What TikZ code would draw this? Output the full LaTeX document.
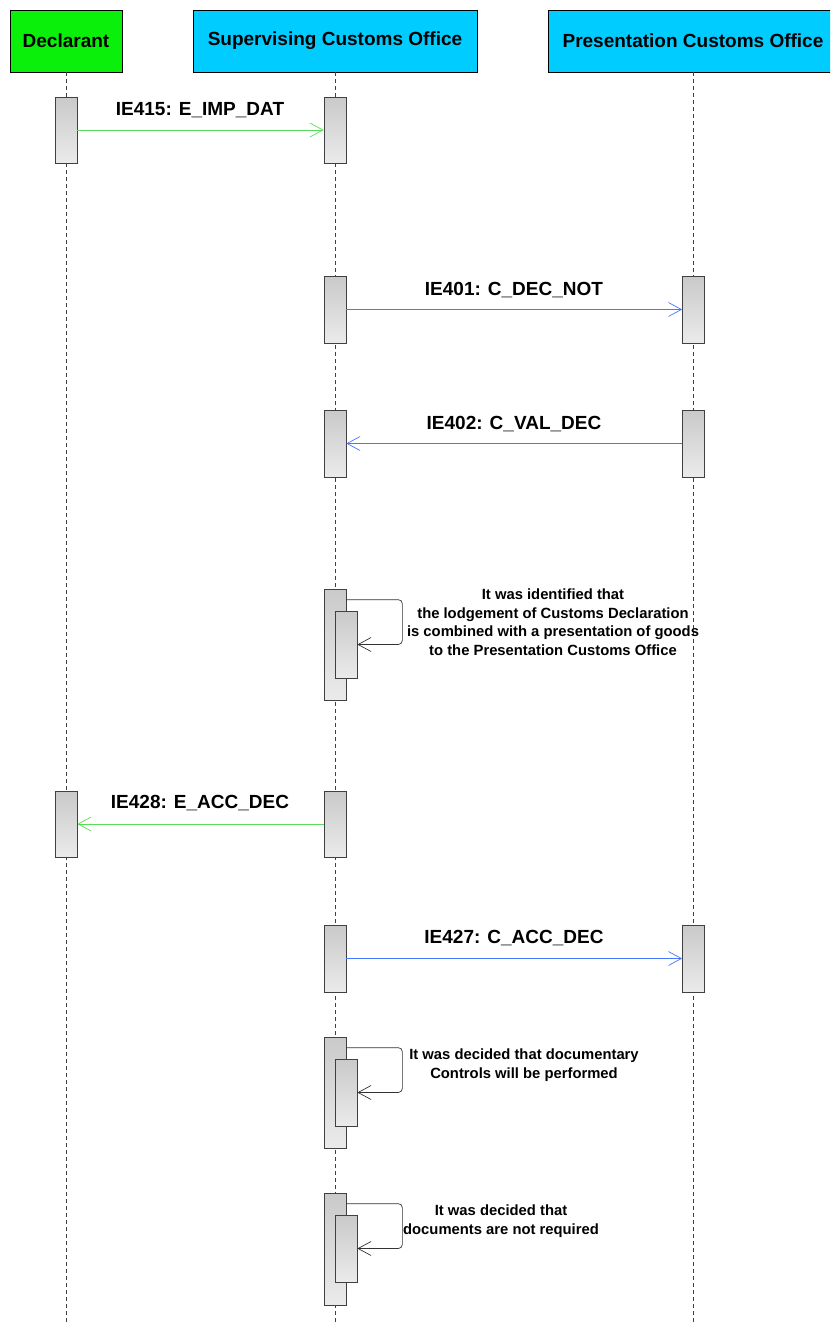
\documentclass[tikz,border=0pt]{standalone}
\usepackage{fontspec}
\setmainfont{Liberation Sans}
\usetikzlibrary{arrows.meta}
\definecolor{declgreen}{RGB}{10,240,10}
\definecolor{offcyan}{RGB}{0,204,255}
\definecolor{msggreen}{RGB}{90,220,90}
\definecolor{msgblue}{RGB}{70,120,255}
\begin{document}
\begin{tikzpicture}[x=1pt,y=-1pt,
  head/.style={draw=black, line width=0.7pt, minimum height=62pt, inner sep=0pt,
    font=\bfseries\fontsize{19}{22}\selectfont},
  life/.style={draw=black!75, dash pattern=on 4pt off 3pt, line width=0.6pt},
  act/.style={draw=black!75, line width=0.7pt, top color=black!21, bottom color=black!8,
    minimum width=22pt, inner sep=0pt},
  msg/.style={line width=0.7pt, -{Straight Barb[length=13pt,width=14pt]}},
  lab/.style={font=\bfseries\fontsize{19}{22}\selectfont, inner sep=0pt},
  note/.style={font=\bfseries\fontsize{14.8}{18.5}\selectfont, align=center, inner sep=0pt},
  selfloop/.style={draw=black!80, line width=0.7pt, rounded corners=4pt,
    -{Straight Barb[length=13pt,width=14pt]}}]
\useasboundingbox (0,0) rectangle (830,1325);
\begin{scope}
\clip (0,0) rectangle (830,1325);
% headers
\node[head, fill=declgreen, minimum width=112pt] (hd) at (66,41) {Declarant};
\node[head, fill=offcyan, minimum width=284pt] (hs) at (335,41) {Supervising Customs Office};
\node[head, fill=offcyan, minimum width=290pt] (hp) at (693,41) {Presentation Customs Office};
\coordinate (bottom) at (0,1325);
% lifelines
\draw[life] (hd.south) -- (hd.south |- bottom);
\draw[life] (hs.south) -- (hs.south |- bottom);
\draw[life] (hp.south) -- (hp.south |- bottom);
\end{scope}
% activations
\node[act, minimum height=66pt] (d1) at (66,130) {};
\node[act, minimum height=66pt] (s1) at (335,130) {};
\node[act, minimum height=67pt] (s2) at (335,309.5) {};
\node[act, minimum height=67pt] (p2) at (693.5,309.5) {};
\node[act, minimum height=67pt] (s3) at (335,443.5) {};
\node[act, minimum height=67pt] (p3) at (693.5,443.5) {};
\node[act, minimum height=111pt] (o1) at (335,644.5) {};
\node[act, minimum height=67pt] (i1) at (346,644.5) {};
\node[act, minimum height=66pt] (d4) at (66,824) {};
\node[act, minimum height=66pt] (s4) at (335,824) {};
\node[act, minimum height=67pt] (s5) at (335,958.5) {};
\node[act, minimum height=67pt] (p5) at (693.5,958.5) {};
\node[act, minimum height=111pt] (o2) at (335,1092.5) {};
\node[act, minimum height=67pt] (i2) at (346,1092.5) {};
\node[act, minimum height=112pt] (o3) at (335,1249) {};
\node[act, minimum height=67pt] (i3) at (346,1248.5) {};
% messages
\draw[msg, msggreen] (d1.east) -- (s1.west);
\node[lab] (l1) at (200,110) {IE415: E\_IMP\_DAT};
\draw[msg, msgblue] (s2.east) -- (p2.west);
\node[lab] (l2) at (514,290) {IE401: C\_DEC\_NOT};
\draw[msg, msgblue] (p3.west) -- (s3.east);
\node[lab] (l3) at (514,424) {IE402: C\_VAL\_DEC};
\draw[msg, msggreen] (s4.west) -- (d4.east);
\node[lab] (l4) at (200,803) {IE428: E\_ACC\_DEC};
\draw[msg, msgblue] (s5.east) -- (p5.west);
\node[lab] (l5) at (514,938) {IE427: C\_ACC\_DEC};
% self messages
\draw[selfloop] ([yshift=-11pt]o1.north east) -| ([xshift=45pt]i1.east) -- (i1.east);
\node[note] (n1) at (553,622) {It was identified that\\the lodgement of Customs Declaration\\is combined with a presentation of goods\\to the Presentation Customs Office};
\draw[selfloop] ([yshift=-11pt]o2.north east) -| ([xshift=45pt]i2.east) -- (i2.east);
\node[note] (n2) at (524,1065) {It was decided that documentary\\Controls will be performed};
\draw[selfloop] ([yshift=-11pt]o3.north east) -| ([xshift=45pt]i3.east) -- (i3.east);
\node[note] (n3) at (501,1221) {It was decided that\\documents are not required};
\end{tikzpicture}
\end{document}
